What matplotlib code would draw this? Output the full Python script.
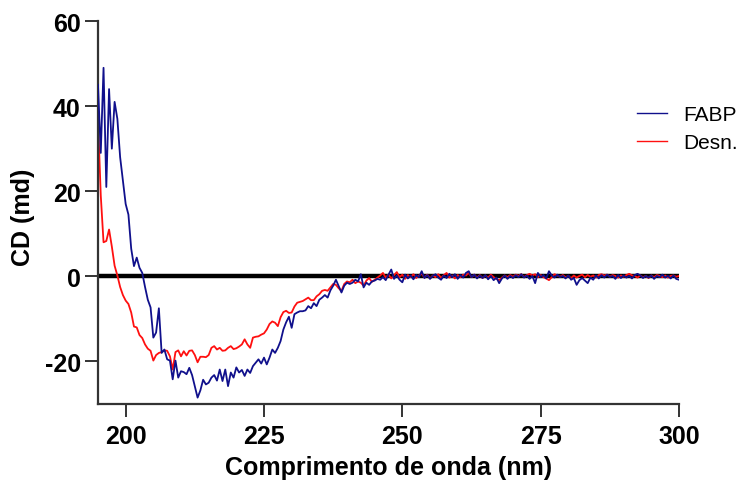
import numpy as np
import matplotlib
matplotlib.use("Agg")
import matplotlib.pyplot as plt
from matplotlib.lines import Line2D

# Wavelength grid: 195 - 300 nm, 0.5 nm step
start_nm = 195.0
step_nm = 0.5

fabp = [
    45, 29, 49, 21, 44, 30, 41, 37, 28, 22.5,
    17, 14.5, 6.5, 2.4, 4.4, 2.0, 0.8, -2.5, -5.5, -7.3,
    -14.4, -13.2, -7.5, -18, -17.2, -19.5, -19.8, -24.2, -19.8, -23.8,
    -22.3, -22.5, -23, -21.5, -23.2, -25.8, -28.5, -26.8, -24.3, -25.4,
    -25, -23.8, -23.2, -24.5, -21.9, -24.6, -21.9, -25.8, -22.6, -23.8,
    -21.4, -22.6, -22, -23.4, -21.9, -22.7, -21.1, -20.3, -19.5, -20.5,
    -19.1, -20.7, -19.1, -17.2, -18, -16.8, -15.2, -12.5, -10.8, -9.5,
    -12.1, -8.9, -8.5, -8.2, -8.2, -8, -7, -7.5, -6.3, -7,
    -5.5, -5, -4.4, -5, -3.3, -2.2, -0.8, -2.3, -3.8, -2.2,
    -1.5, -1.8, -1.5, -0.8, -1.2, 0.5, -2.6, -1.5, -2, -1.2,
    -1.0, -0.6, -0.8, -0.2, -0.9, 0.4, 1.6, -0.6, 0.2, -0.8,
    -1.4, 0.4, -0.5, 0.2, -0.7, 0.3, -0.2, 1.2, -0.4, 0.3,
    -0.6, 0.1, 0.5, -0.3, -0.8, 0.2, -0.4, 0.6, -0.2, 0.5,
    -0.6, 0.3, -0.3, 0.8, 1.2, -0.2, 0.4, -0.5, 0.2, -0.4,
    0.3, -0.7, 0.1, -0.9, -0.3, -1.6, -0.5, 0.2, -0.6, 0.1,
    -0.4, 0.3, -0.2, 0.5, -0.3, 0.2, -0.6, 0.1, -1.6, 0.8,
    -0.2, 0.3, -0.5, 1.2, 0.2, -0.3, 0.4, -0.2, 0.1, -0.5,
    0.2, -0.8, -0.4, -2.0, -0.9, -0.4, -1.0, -1.6, -0.3, -0.8,
    0.2, -0.5, 0.3, -0.3, 0.4, -0.2, 0.1, -0.6, 0.3, -0.4,
    0.2, -0.3, 0.1, -0.5, 0.3, 0.6, 0.2, -0.4, 0.1, -0.3,
    0.2, -0.6, 0.1, -0.2, 0.4, -0.3, 0.1, -0.5, 0.2, -0.6,
    -0.8,
]

desn = [
    37, 19, 8, 8.3, 11, 7, 2.5, 0.2, -2.5, -4.4,
    -5.7, -6.5, -8.5, -11.8, -12, -13.8, -14.5, -16, -17, -17.5,
    -19.8, -18.5, -18, -17.8, -17.4, -17.5, -18.8, -21.9, -17.8, -17.4,
    -18.8, -17.6, -18.6, -17.5, -17.4, -18.5, -20.2, -18.9, -18.9, -19,
    -18.5, -16.8, -16.4, -17.2, -16.8, -17.5, -17.4, -16.8, -16.4, -17.1,
    -16.9, -16.5, -16, -14.8, -16, -16.8, -14.4, -14.2, -14.1, -13.7,
    -13.4, -12.5, -11.2, -10.6, -10.9, -11.7, -9.6, -8.4, -8.1, -8.6,
    -8.5, -7.1, -6.2, -6, -5.8, -5.4, -5, -5.6, -5.6, -4.7,
    -4.2, -3.4, -3.2, -3.4, -2.6, -1.8, -2.0, -2.8, -3.4, -1.8,
    -1.2, -1.4, -0.8, -1.6, -1.2, -1.5, -2.2, -1.0, -0.4, -1.3,
    -0.8, -0.3, 0.2, 0.8, -0.3, 0.4, -0.5, 0.3, 1.0, -0.2,
    0.4, -0.6, 0.3, -0.2, 0.5, -0.4, 0.2, 0.6, -0.3, 0.4,
    -0.5, 0.2, -0.2, 0.5, -0.4, 0.3, 0.8, -0.3, 0.2, -0.5,
    0.3, -0.2, 0.4, 0.2, 0.8, -0.2, 0.4, -0.3, 0.3, -0.4,
    0.2, -0.3, 0.4, -0.2, -0.6, -0.9, -0.3, 0.2, -0.2, 0.3,
    -0.1, 0.4, 0.1, 0.5, -0.2, 0.3, 0.6, 0.2, 0.5, -0.2,
    0.3, -0.2, -0.5, -0.9, -0.2, 0.5, 0.2, -0.1, 0.3, -0.2,
    0.1, -0.4, 0.2, -0.3, 0.1, 0.4, -0.2, 0.3, -0.1, 0.2,
    -0.3, 0.3, 0.5, 0.2, 0.4, -0.1, 0.3, 0.1, -0.3, 0.2,
    -0.1, 0.3, 0.6, 0.2, 0.1, -0.3, 0.2, -0.2, 0.1, -0.4,
    0.2, -0.2, 0.3, 0.1, -0.2, 0.2, -0.3, 0.1, 0.2, -0.1,
    0.1,
]

series_labels = ["FABP", "Desn."]
x_ticks = [200, 225, 250, 275, 300]
y_ticks = [-20, 0, 20, 40, 60]

wl_fabp = start_nm + step_nm * np.arange(len(fabp))
wl_desn = start_nm + step_nm * np.arange(len(desn))

blue = "#10108c"
red = "#ff1010"
axis_col = "#333333"

plt.rcParams['font.family'] = ['Liberation Sans', 'DejaVu Sans']
plt.rcParams['axes.unicode_minus'] = False

fig = plt.figure(figsize=(7.43, 4.89), dpi=100)
ax = fig.add_axes([98/743, 1-405/489, (679-98)/743, (405-22)/489])

ax.axhline(0, color="black", lw=3.2, zorder=1)
ax.plot(wl_fabp, fabp, color=blue, lw=1.3, zorder=3)
ax.plot(wl_desn, desn, color=red, lw=1.3, zorder=2)

ax.set_xlim(195, 300)
ax.set_ylim(-30, 60)
ax.set_xticks(x_ticks)
ax.set_yticks(y_ticks)

for s in ["top", "right"]:
    ax.spines[s].set_visible(False)
for s in ["left", "bottom"]:
    ax.spines[s].set_color(axis_col)
    ax.spines[s].set_linewidth(1.6)

ax.tick_params(axis="both", which="major", length=9.5, width=1.4,
               color=axis_col, labelsize=18, pad=3)
ax.tick_params(axis="x", pad=5)
for lab in ax.get_xticklabels() + ax.get_yticklabels():
    lab.set_fontweight("bold")

ax.set_xlabel("Comprimento de onda (nm)", fontsize=18, fontweight="bold", labelpad=5)
ax.set_ylabel("CD (md)", fontsize=18, fontweight="bold")
ax.yaxis.set_label_coords(-0.108, 0.49)

handles = [Line2D([0], [0], color=blue, lw=1.0),
           Line2D([0], [0], color=red, lw=1.0)]
leg = fig.legend(handles, series_labels, loc="upper left",
                 bbox_to_anchor=(637/743, 1-106/489),
                 frameon=False, fontsize=15, handlelength=1.45,
                 handletextpad=0.75, labelspacing=0.45,
                 borderpad=0, borderaxespad=0)

fig.savefig("out.png", dpi=100)
